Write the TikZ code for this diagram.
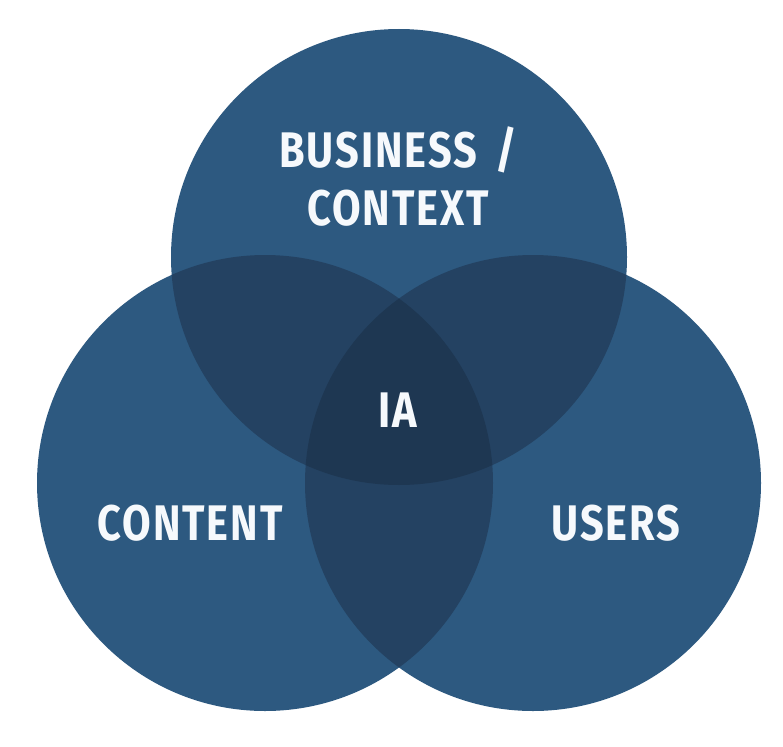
\documentclass[tikz,border=0pt]{standalone}
\usepackage{fontspec}
\setmainfont[FakeStretch=0.83,LetterSpace=4]{Fira Sans}
\definecolor{setblue}{HTML}{2D5980}
\definecolor{pairblue}{HTML}{244262}
\definecolor{coreblue}{HTML}{1E3752}
\definecolor{labelwhite}{HTML}{F6F9FC}
\tikzset{
  setlabel/.style={text=labelwhite, font=\fontsize{50}{58}\selectfont\bfseries, align=center, inner sep=0pt}
}
\begin{document}
\begin{tikzpicture}[x=1pt,y=-1pt]
  \useasboundingbox (0,0) rectangle (783,746);
  \fill[white] (0,0) rectangle (783,746);
  \def\rad{228}
  \coordinate (top) at (399,257);
  \coordinate (left) at (265,483);
  \coordinate (right) at (533,483);
  % the three sets
  \fill[setblue] (top) circle (\rad);
  \fill[setblue] (left) circle (\rad);
  \fill[setblue] (right) circle (\rad);
  % pairwise overlaps
  \begin{scope}
    \clip (top) circle (\rad);
    \fill[pairblue] (left) circle (\rad);
    \fill[pairblue] (right) circle (\rad);
  \end{scope}
  \begin{scope}
    \clip (left) circle (\rad);
    \fill[pairblue] (right) circle (\rad);
  \end{scope}
  % common core
  \begin{scope}
    \clip (top) circle (\rad);
    \clip (left) circle (\rad);
    \fill[coreblue] (right) circle (\rad);
  \end{scope}
  % labels
  \node[setlabel] (business) at (398,150) {BUSINESS\hspace{18pt}/};
  \node[setlabel] (context) at (398,208) {CONTEXT};
  \node[setlabel] (ia) at (398,410) {IA};
  \node[setlabel] (content) at (190,523) {CONTENT};
  \node[setlabel] (users) at (616,523) {USERS};
\end{tikzpicture}
\end{document}
